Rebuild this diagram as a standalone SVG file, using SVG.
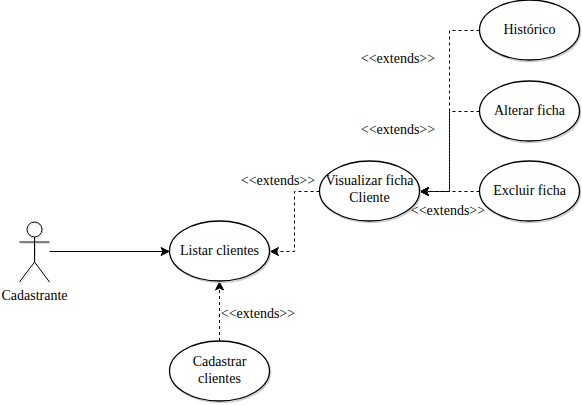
<svg xmlns="http://www.w3.org/2000/svg" width="582" height="405" viewBox="0 0 582 405">
<style>
text{font-family:"Liberation Serif","Times New Roman",serif;font-size:14px;fill:#000;text-anchor:middle}
.e{fill:#fff;stroke:#000;stroke-width:1.3}
.s{fill:none;stroke:#ccc;stroke-width:1.5}
.c{fill:none;stroke:#000;stroke-width:1}
.d{stroke-dasharray:3 3}
</style>
<defs>
<marker id="a" markerUnits="userSpaceOnUse" markerWidth="10" markerHeight="10" refX="9" refY="5" orient="auto">
<path d="M1 1L9 5L1 9L3 5Z" fill="#000" stroke="#000" stroke-width="1"/>
</marker>
</defs>
<rect width="582" height="405" fill="#fff"/>
<g id="connectors">
<path class="c" d="M49.500 251.500H169" marker-end="url(#a)"/>
<path class="c d" d="M219.500 341V282" marker-end="url(#a)"/>
<path class="c d" d="M319.500 191.500H294.500V251.500H270.500" marker-end="url(#a)"/>
<path class="c d" d="M479.500 30.500H449.500V191.500H420.500" marker-end="url(#a)"/>
<path class="c d" d="M479.500 111.500H449.500V191.500H420.500" marker-end="url(#a)"/>
<path class="c d" d="M479.500 191.500H420.500" marker-end="url(#a)"/>
</g>
<g id="actor">
<g fill="none" stroke="#ddd" stroke-width="1" transform="translate(1 1.500)">
<circle cx="34.500" cy="229.500" r="7.500"/><path d="M34.500 237V262M19.500 242H49.500M34.500 262L19.500 282M34.500 262L49.500 282"/>
</g>
<g fill="none" stroke="#000" stroke-width="1">
<circle cx="34.500" cy="229.500" r="7.500"/><path d="M34.500 237V262M19.500 242H49.500M34.500 262L19.500 282M34.500 262L49.500 282"/>
</g>
<text x="34.500" y="300">Cadastrante</text>
</g>
<g id="listar"><ellipse class="s" cx="220.500" cy="252.500" rx="50" ry="30"/><ellipse class="e" cx="219.500" cy="251" rx="50" ry="30"/><text x="219.500" y="255">Listar clientes</text></g>
<g id="cadastrar"><ellipse class="s" cx="220.500" cy="372.500" rx="50" ry="30"/><ellipse class="e" cx="219.500" cy="371" rx="50" ry="30"/><text x="219.500" y="366">Cadastrar</text><text x="219.500" y="383">clientes</text></g>
<g id="visualizar"><ellipse class="s" cx="370.500" cy="192.500" rx="50" ry="30"/><ellipse class="e" cx="369.500" cy="191" rx="50" ry="30"/><text x="369.500" y="185">Visualizar ficha</text><text x="369.500" y="202">Cliente</text></g>
<g id="historico"><ellipse class="s" cx="530.500" cy="31.500" rx="50" ry="30"/><ellipse class="e" cx="529.500" cy="30" rx="50" ry="30"/><text x="529.500" y="34">Histórico</text></g>
<g id="alterar"><ellipse class="s" cx="530.500" cy="112.500" rx="50" ry="30"/><ellipse class="e" cx="529.500" cy="111" rx="50" ry="30"/><text x="529.500" y="115">Alterar ficha</text></g>
<g id="excluir"><ellipse class="s" cx="530.500" cy="192.500" rx="50" ry="30"/><ellipse class="e" cx="529.500" cy="191" rx="50" ry="30"/><text x="529.500" y="195">Excluir ficha</text></g>
<g id="labels">
<text x="398" y="63">&lt;&lt;extends&gt;&gt;</text>
<text x="398" y="134">&lt;&lt;extends&gt;&gt;</text>
<text x="278" y="185">&lt;&lt;extends&gt;&gt;</text>
<text x="448" y="215">&lt;&lt;extends&gt;&gt;</text>
<text x="258" y="318">&lt;&lt;extends&gt;&gt;</text>
</g>
</svg>
